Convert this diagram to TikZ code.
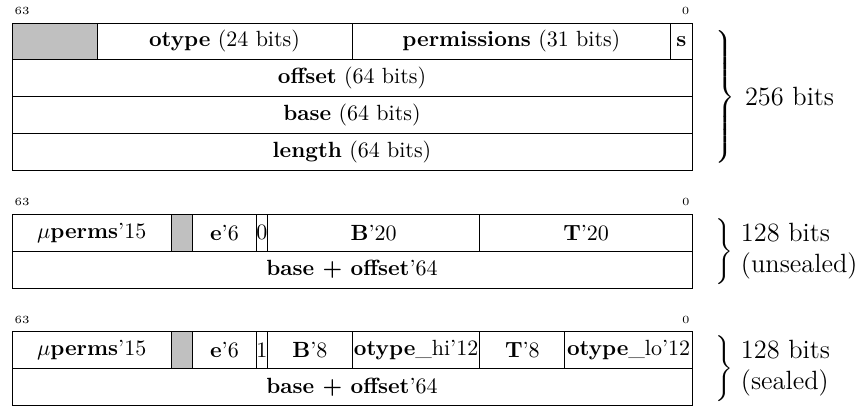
\documentclass[tikz,border=0pt]{standalone}
\definecolor{FieldGrey}{RGB}{192, 192, 192}
\usepackage{tikz}
\usetikzlibrary{positioning}

\begin{document}
\begin{tikzpicture}[x=4.83pt, y=16.82pt]
        % --- Styles ---
        \tikzset{field/.style={draw, rectangle, anchor=north west, inner sep=0pt, outer sep=0pt, minimum height=16.82pt, minimum width=#1*4.83pt}}
        \tikzstyle{reserved}=[fill=FieldGrey]
        \tikzstyle{bitnum}=[font=\tiny, inner sep=1pt]
        \tikzstyle{curly}=[anchor=west, inner sep=0pt]
        \tikzstyle{sizelabel}=[font=\large, align=left, inner sep=0pt]

        \useasboundingbox (-1.13, 0.62) rectangle (79.72, -10.38);

        % --- 1. 256-bit Capability ---
        \node[field=8, reserved] (pad) at (0,0) {};
        \node[field=24, right=0pt of pad] (otype) {\textbf{otype} (24 bits)};
        \node[field=30, right=0pt of otype] (perms) {\textbf{permissions} (31 bits)};
        \node[field=2, right=0pt of perms] (sealed) {\textbf{s}};
        \node[field=64] (offset) at (0,-1) {\textbf{offset} (64 bits)};
        \node[field=64] (base) at (0,-2) {\textbf{base} (64 bits)};
        \node[field=64] (length) at (0,-3) {\textbf{length} (64 bits)};

        % Bit numbers
        \node[bitnum, above right=2.5pt and 0pt of pad.north west] (msbA) {63};
        \node[bitnum, above left=2.5pt and 0pt of sealed.north east] (lsbA) {0};

        % Size
        \node[curly] (braceA) at (65.95,-2) {$\left.\vcenter{\hrule height 64pt width 0pt}\right\}$};
        \node[sizelabel, right=4pt of braceA] (sizeA) {256 bits};

        % --- 2. 128-bit Capability, Unsealed ---
        \node[field=15] (upermsB) at (0,-5.17) {$\mu$\textbf{perms}'15};
        \node[field=2, reserved, right=0pt of upermsB] (padB) {};
        \node[field=6, right=0pt of padB] (expB) {\textbf{e}'6};
        \node[field=1, right=0pt of expB] (flagB) {0};
        \node[field=20, right=0pt of flagB] (bottomB) {\textbf{B}'20};
        \node[field=20, right=0pt of bottomB] (topB) {\textbf{T}'20};
        \node[field=64] (addrB) at (0,-6.17) {\textbf{base + offset}'64};

        \node[bitnum, above right=2.5pt and 0pt of upermsB.north west] (msbB) {63};
        \node[bitnum, above left=2.5pt and 0pt of topB.north east] (lsbB) {0};

        \node[curly] (braceB) at (65.95,-6.17) {$\left.\vcenter{\hrule height 31pt width 0pt}\right\}$};
        \node[sizelabel, right=3pt of braceB] (sizeB) {128 bits\\(unsealed)};

        % --- 3. 128-bit Capability, Sealed ---
        \node[field=15] (upermsC) at (0,-8.34) {$\mu$\textbf{perms}'15};
        \node[field=2, reserved, right=0pt of upermsC] (padC) {};
        \node[field=6, right=0pt of padC] (expC) {\textbf{e}'6};
        \node[field=1, right=0pt of expC] (flagC) {1};
        \node[field=8, right=0pt of flagC] (bottomC) {\textbf{B}'8};
        \node[field=12, right=0pt of bottomC] (otypehiC) {\textbf{otype}\_hi'12};
        \node[field=8, right=0pt of otypehiC] (topC) {\textbf{T}'8};
        \node[field=12, right=0pt of topC] (otypeloC) {\textbf{otype}\_lo'12};
        \node[field=64] (addrC) at (0,-9.34) {\textbf{base + offset}'64};

        \node[bitnum, above right=2.5pt and 0pt of upermsC.north west] (msbC) {63};
        \node[bitnum, above left=2.5pt and 0pt of otypeloC.north east] (lsbC) {0};

        \node[curly] (braceC) at (65.95,-9.34) {$\left.\vcenter{\hrule height 30pt width 0pt}\right\}$};
        \node[sizelabel, right=3pt of braceC] (sizeC) {128 bits\\(sealed)};

    \end{tikzpicture}
\end{document}
